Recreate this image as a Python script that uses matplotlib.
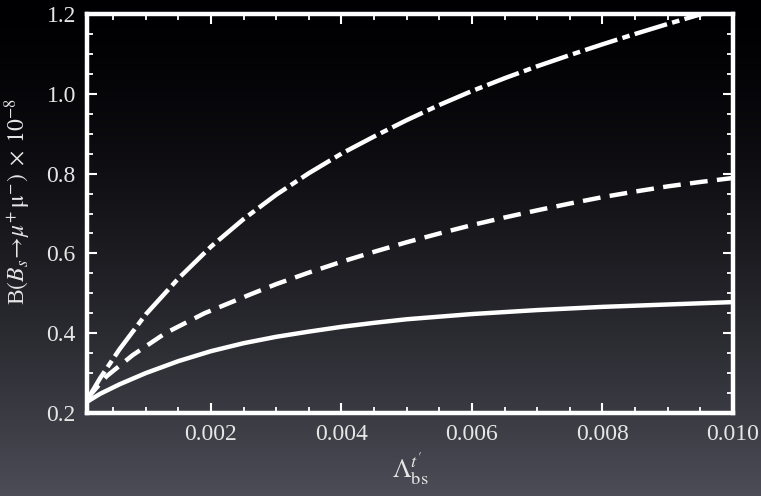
import numpy as np
import matplotlib
matplotlib.use("Agg")
import matplotlib.pyplot as plt
from matplotlib.ticker import MultipleLocator, FormatStrFormatter

# ---- values ----
x_solid = [0.0001, 0.0003, 0.0006, 0.0010, 0.0015, 0.0020, 0.0025, 0.0030,
           0.0035, 0.0040, 0.0045, 0.0050, 0.0060, 0.0070, 0.0080, 0.0090,
           0.0100]
y_solid = [0.228, 0.248, 0.272, 0.300, 0.330, 0.355, 0.375, 0.391,
           0.404, 0.416, 0.426, 0.435, 0.448, 0.458, 0.466, 0.472,
           0.478]

x_dashed = [0.0001, 0.0004, 0.0008, 0.0013, 0.0019, 0.0026, 0.0030, 0.0035,
            0.0040, 0.0045, 0.0050, 0.0055, 0.0060, 0.0065, 0.0070, 0.0075,
            0.0080, 0.0085, 0.0090, 0.0095, 0.0100]
y_dashed = [0.236, 0.292, 0.345, 0.400, 0.450, 0.497, 0.523, 0.552,
            0.579, 0.604, 0.628, 0.650, 0.671, 0.690, 0.708, 0.725,
            0.741, 0.755, 0.768, 0.779, 0.789]

x_dashdot = [0.0001, 0.0003, 0.0006, 0.0010, 0.0015, 0.0020, 0.0025, 0.0030,
             0.0035, 0.0040, 0.0045, 0.0050, 0.0055, 0.0060, 0.0065, 0.0070,
             0.0075, 0.0080, 0.0085, 0.0090, 0.0095, 0.0100]
y_dashdot = [0.232, 0.287, 0.360, 0.447, 0.537, 0.617, 0.686, 0.747,
             0.801, 0.850, 0.893, 0.934, 0.972, 1.007, 1.039, 1.069,
             1.097, 1.124, 1.150, 1.175, 1.199, 1.222]

x_ticks = [0.002, 0.004, 0.006, 0.008, 0.010]
y_ticks = [0.2, 0.4, 0.6, 0.8, 1.0, 1.2]

plt.rcParams["font.family"] = ["Liberation Serif", "DejaVu Serif"]
plt.rcParams["mathtext.fontset"] = "stix"

fg = "#e6e6e6"

fig = plt.figure(figsize=(7.61, 4.96), dpi=100)

# ---- background gradient ----
bg = fig.add_axes([0, 0, 1, 1], zorder=-10)
t = np.linspace(0, 1, 256) ** 1.5
top = np.array([0.0, 0.0, 0.01])
bot = np.array([0.30, 0.30, 0.34])
grad = top[None, :] + (bot - top)[None, :] * t[:, None]
bg.imshow(grad[:, None, :], aspect="auto", extent=[0, 1, 0, 1], origin="upper")
bg.set_axis_off()

ax = fig.add_axes([0.1143, 0.1673, 0.8489, 0.8045])
ax.patch.set_visible(False)

lw = 3.2
ax.plot(x_solid, y_solid, color="white", lw=lw, solid_capstyle="butt")
ax.plot(x_dashed, y_dashed, color="white", lw=lw, linestyle=(0, (4.0, 2.1)),
        dash_capstyle="butt")
ax.plot(x_dashdot, y_dashdot, color="white", lw=lw,
        linestyle=(0, (7.6, 1.2, 1.7, 1.2)), dash_capstyle="butt")

ax.set_xlim(0.0001, 0.0100)
ax.set_ylim(0.2, 1.2)

ax.set_xticks(x_ticks)
ax.set_yticks(y_ticks)
ax.xaxis.set_major_formatter(FormatStrFormatter("%.3f"))
ax.yaxis.set_major_formatter(FormatStrFormatter("%.1f"))
ax.xaxis.set_minor_locator(MultipleLocator(0.0005))
ax.yaxis.set_minor_locator(MultipleLocator(0.05))

ax.tick_params(which="both", direction="in", top=True, right=True,
               color="white", labelcolor=fg, labelsize=17)
ax.tick_params(which="major", length=7, width=1.5, pad=8)
ax.tick_params(which="minor", length=4, width=1.3)

for sp in ax.spines.values():
    sp.set_color("white")
    sp.set_linewidth(3.2)

ax.set_xlabel(r"$\Lambda_{\mathrm{bs}}^{t^{\prime}}$", color=fg, fontsize=19,
              labelpad=4)
ax.set_ylabel(r"B$(B_s\!\rightarrow\!\mu^{+}\,\mathrm{\mu}^{-})\;\times\;10^{-8}$",
              color=fg, fontsize=17)
ax.yaxis.set_label_coords(-0.084, 0.53)

fig.savefig("out.png", dpi=100)
